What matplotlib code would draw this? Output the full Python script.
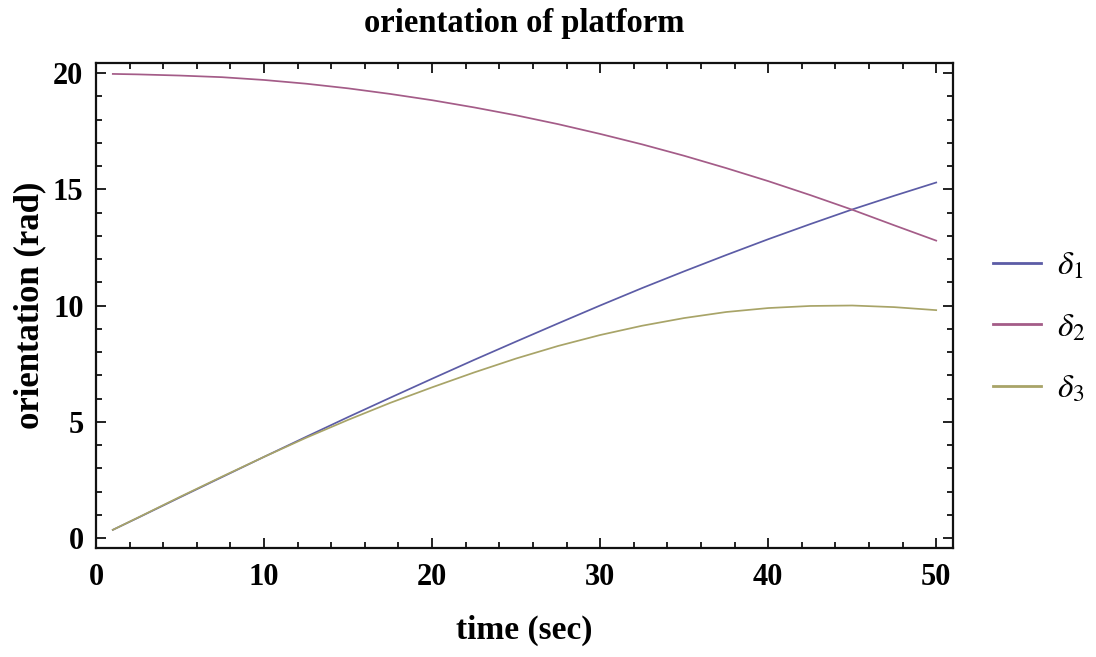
import matplotlib
matplotlib.use("Agg")
import matplotlib.pyplot as plt
from matplotlib.ticker import MultipleLocator

# time samples (sec)
t = [1, 2.5, 5, 7.5, 10, 12.5, 15, 17.5, 20, 22.5, 25, 27.5, 30,
     32.5, 35, 37.5, 40, 42.5, 45, 47.5, 50]

# platform orientation angles (rad)
delta1 = [0.36, 0.88, 1.76, 2.63, 3.50, 4.36, 5.21, 6.04, 6.86, 7.67, 8.46,
          9.24, 10.01, 10.76, 11.48, 12.18, 12.86, 13.51, 14.14, 14.73, 15.30]
delta2 = [19.97, 19.95, 19.90, 19.83, 19.71, 19.55, 19.35, 19.11, 18.84, 18.53,
          18.19, 17.81, 17.39, 16.94, 16.45, 15.92, 15.36, 14.76, 14.13, 13.46, 12.80]
delta3 = [0.36, 0.89, 1.78, 2.65, 3.50, 4.32, 5.09, 5.82, 6.49, 7.13, 7.73,
          8.27, 8.74, 9.14, 9.47, 9.73, 9.90, 9.99, 10.01, 9.94, 9.81]

series_labels = [r"$\delta_1$", r"$\delta_2$", r"$\delta_3$"]
colors = ["#5c5ca6", "#a45c88", "#a8a468"]

plt.rcParams["font.family"] = ["Liberation Serif", "DejaVu Serif"]
plt.rcParams["mathtext.fontset"] = "stix"

fig = plt.figure(figsize=(10.96, 6.57), dpi=100)
ax = fig.add_axes([96 / 1096, 1 - 548 / 657, (953 - 96) / 1096, (548 - 63) / 657])

for ys, lab, c in zip([delta1, delta2, delta3], series_labels, colors):
    ax.plot(t, ys, color=c, lw=1.25, label=lab)

ax.set_xlim(0, 51.0)
ax.set_ylim(-0.42, 20.44)
ax.xaxis.set_major_locator(MultipleLocator(10))
ax.xaxis.set_minor_locator(MultipleLocator(2))
ax.yaxis.set_major_locator(MultipleLocator(5))
ax.yaxis.set_minor_locator(MultipleLocator(1))

ax.tick_params(which="both", direction="in", top=True, right=True,
               labeltop=False, labelright=False, width=1.3, color="#111111")
ax.tick_params(which="major", length=7, labelsize=22)
ax.tick_params(axis="x", which="major", pad=11)
ax.tick_params(axis="y", which="major", pad=9)
ax.tick_params(which="minor", length=4)
for lbl in ax.get_xticklabels() + ax.get_yticklabels():
    lbl.set_fontweight("bold")
for s in ax.spines.values():
    s.set_linewidth(1.6)
    s.set_color("#111111")

ax.set_title("orientation of platform", fontsize=23.5, fontweight="bold", pad=22)
ax.set_xlabel("time (sec)", fontsize=24, fontweight="bold", labelpad=16)
ax.set_ylabel("orientation (rad)", fontsize=25, fontweight="bold", labelpad=5)

leg = fig.legend(loc="center left", bbox_to_anchor=(0.906, 0.501), frameon=False,
                 fontsize=24, handlelength=1.45, labelspacing=0.92, handletextpad=0.48,
                 borderpad=0, borderaxespad=0)
for h in leg.get_lines():
    h.set_linewidth(2.0)

fig.savefig("out.png", dpi=100, facecolor="white")
